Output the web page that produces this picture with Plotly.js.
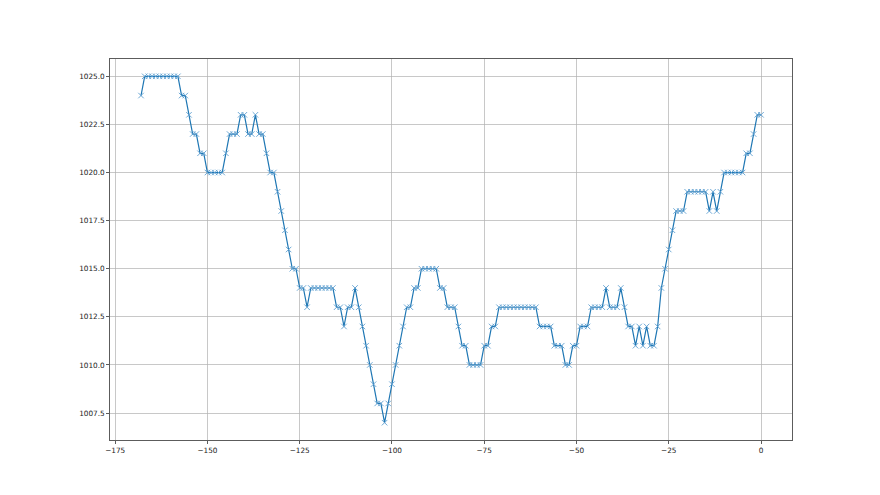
<!DOCTYPE html>
<html>
<head>
<meta charset="utf-8">
<script src="https://cdn.plot.ly/plotly-3.0.1.min.js"></script>
<style>html,body{margin:0;padding:0;background:#fff;}#chart{width:880px;height:495px;}</style>
</head>
<body>
<div id="chart"></div>
<script>
// hours relative to now
const hours = [
  -168,-167,-166,-165,-164,-163,-162,-161,-160,-159,-158,-157,-156,-155,-154,-153,-152,-151,-150,-149,
  -148,-147,-146,-145,-144,-143,-142,-141,-140,-139,-138,-137,-136,-135,-134,-133,-132,-131,-130,-129,
  -128,-127,-126,-125,-124,-123,-122,-121,-120,-119,-118,-117,-116,-115,-114,-113,-112,-111,-110,-109,
  -108,-107,-106,-105,-104,-103,-102,-101,-100,-99,-98,-97,-96,-95,-94,-93,-92,-91,-90,-89,
  -88,-87,-86,-85,-84,-83,-82,-81,-80,-79,-78,-77,-76,-75,-74,-73,-72,-71,-70,-69,
  -68,-67,-66,-65,-64,-63,-62,-61,-60,-59,-58,-57,-56,-55,-54,-53,-52,-51,-50,-49,
  -48,-47,-46,-45,-44,-43,-42,-41,-40,-39,-38,-37,-36,-35,-34,-33,-32,-31,-30,-29,
  -28,-27,-26,-25,-24,-23,-22,-21,-20,-19,-18,-17,-16,-15,-14,-13,-12,-11,-10,-9,
  -8,-7,-6,-5,-4,-3,-2,-1,0
];
// pressure values
const pressure = [
  1024,1025,1025,1025,1025,1025,1025,1025,1025,1025,1025,1024,1024,1023,1022,1022,1021,1021,1020,1020,
  1020,1020,1020,1021,1022,1022,1022,1023,1023,1022,1022,1023,1022,1022,1021,1020,1020,1019,1018,1017,
  1016,1015,1015,1014,1014,1013,1014,1014,1014,1014,1014,1014,1014,1013,1013,1012,1013,1013,1014,1013,
  1012,1011,1010,1009,1008,1008,1007,1008,1009,1010,1011,1012,1013,1013,1014,1014,1015,1015,1015,1015,
  1015,1014,1014,1013,1013,1013,1012,1011,1011,1010,1010,1010,1010,1011,1011,1012,1012,1013,1013,1013,
  1013,1013,1013,1013,1013,1013,1013,1013,1012,1012,1012,1012,1011,1011,1011,1010,1010,1011,1011,1012,
  1012,1012,1013,1013,1013,1013,1014,1013,1013,1013,1014,1013,1012,1012,1011,1012,1011,1012,1011,1011,
  1012,1014,1015,1016,1017,1018,1018,1018,1019,1019,1019,1019,1019,1019,1018,1019,1018,1019,1020,1020,
  1020,1020,1020,1020,1021,1021,1022,1023,1023
];
const xTicks = [-175,-150,-125,-100,-75,-50,-25,0];
const yTicks = [1007.5,1010,1012.5,1015,1017.5,1020,1022.5,1025];

const blue = '#1f77b4';
const markerBlue = '#5f9fd0';
const trace = {
  x: hours, y: pressure, type: 'scatter', mode: 'lines+markers',
  line: {color: blue, width: 1.2},
  marker: {symbol: 'x-thin', size: 5.5, color: markerBlue, line: {color: markerBlue, width: 0.9}},
  hoverinfo: 'skip'
};
const axisCommon = {
  showline: true, mirror: true, linecolor: '#333', linewidth: 0.8,
  ticks: 'outside', ticklen: 3, tickwidth: 0.8, tickcolor: '#333',
  showgrid: true, gridcolor: '#b0b0b0', gridwidth: 0.7, zeroline: false,
  tickfont: {family: 'DejaVu Sans', size: 7.3, color: '#222'}
};
const layout = {
  width: 880, height: 495, autosize: false,
  margin: {l: 110, r: 88, t: 59.4, b: 54.5, pad: 0},
  paper_bgcolor: '#fff', plot_bgcolor: '#fff',
  showlegend: false,
  xaxis: Object.assign({}, axisCommon, {range: [-176.4, 8.4], tickmode: 'array', tickvals: xTicks, ticktext: xTicks.map(v => v < 0 ? '\u2212' + Math.abs(v) : String(v))}),
  yaxis: Object.assign({}, axisCommon, {range: [1006.1, 1025.9], tickmode: 'array', tickvals: yTicks, ticktext: yTicks.map(v => v.toFixed(1))})
};
Plotly.newPlot('chart', [trace], layout, {staticPlot: true, displayModeBar: false});
</script>
</body>
</html>
